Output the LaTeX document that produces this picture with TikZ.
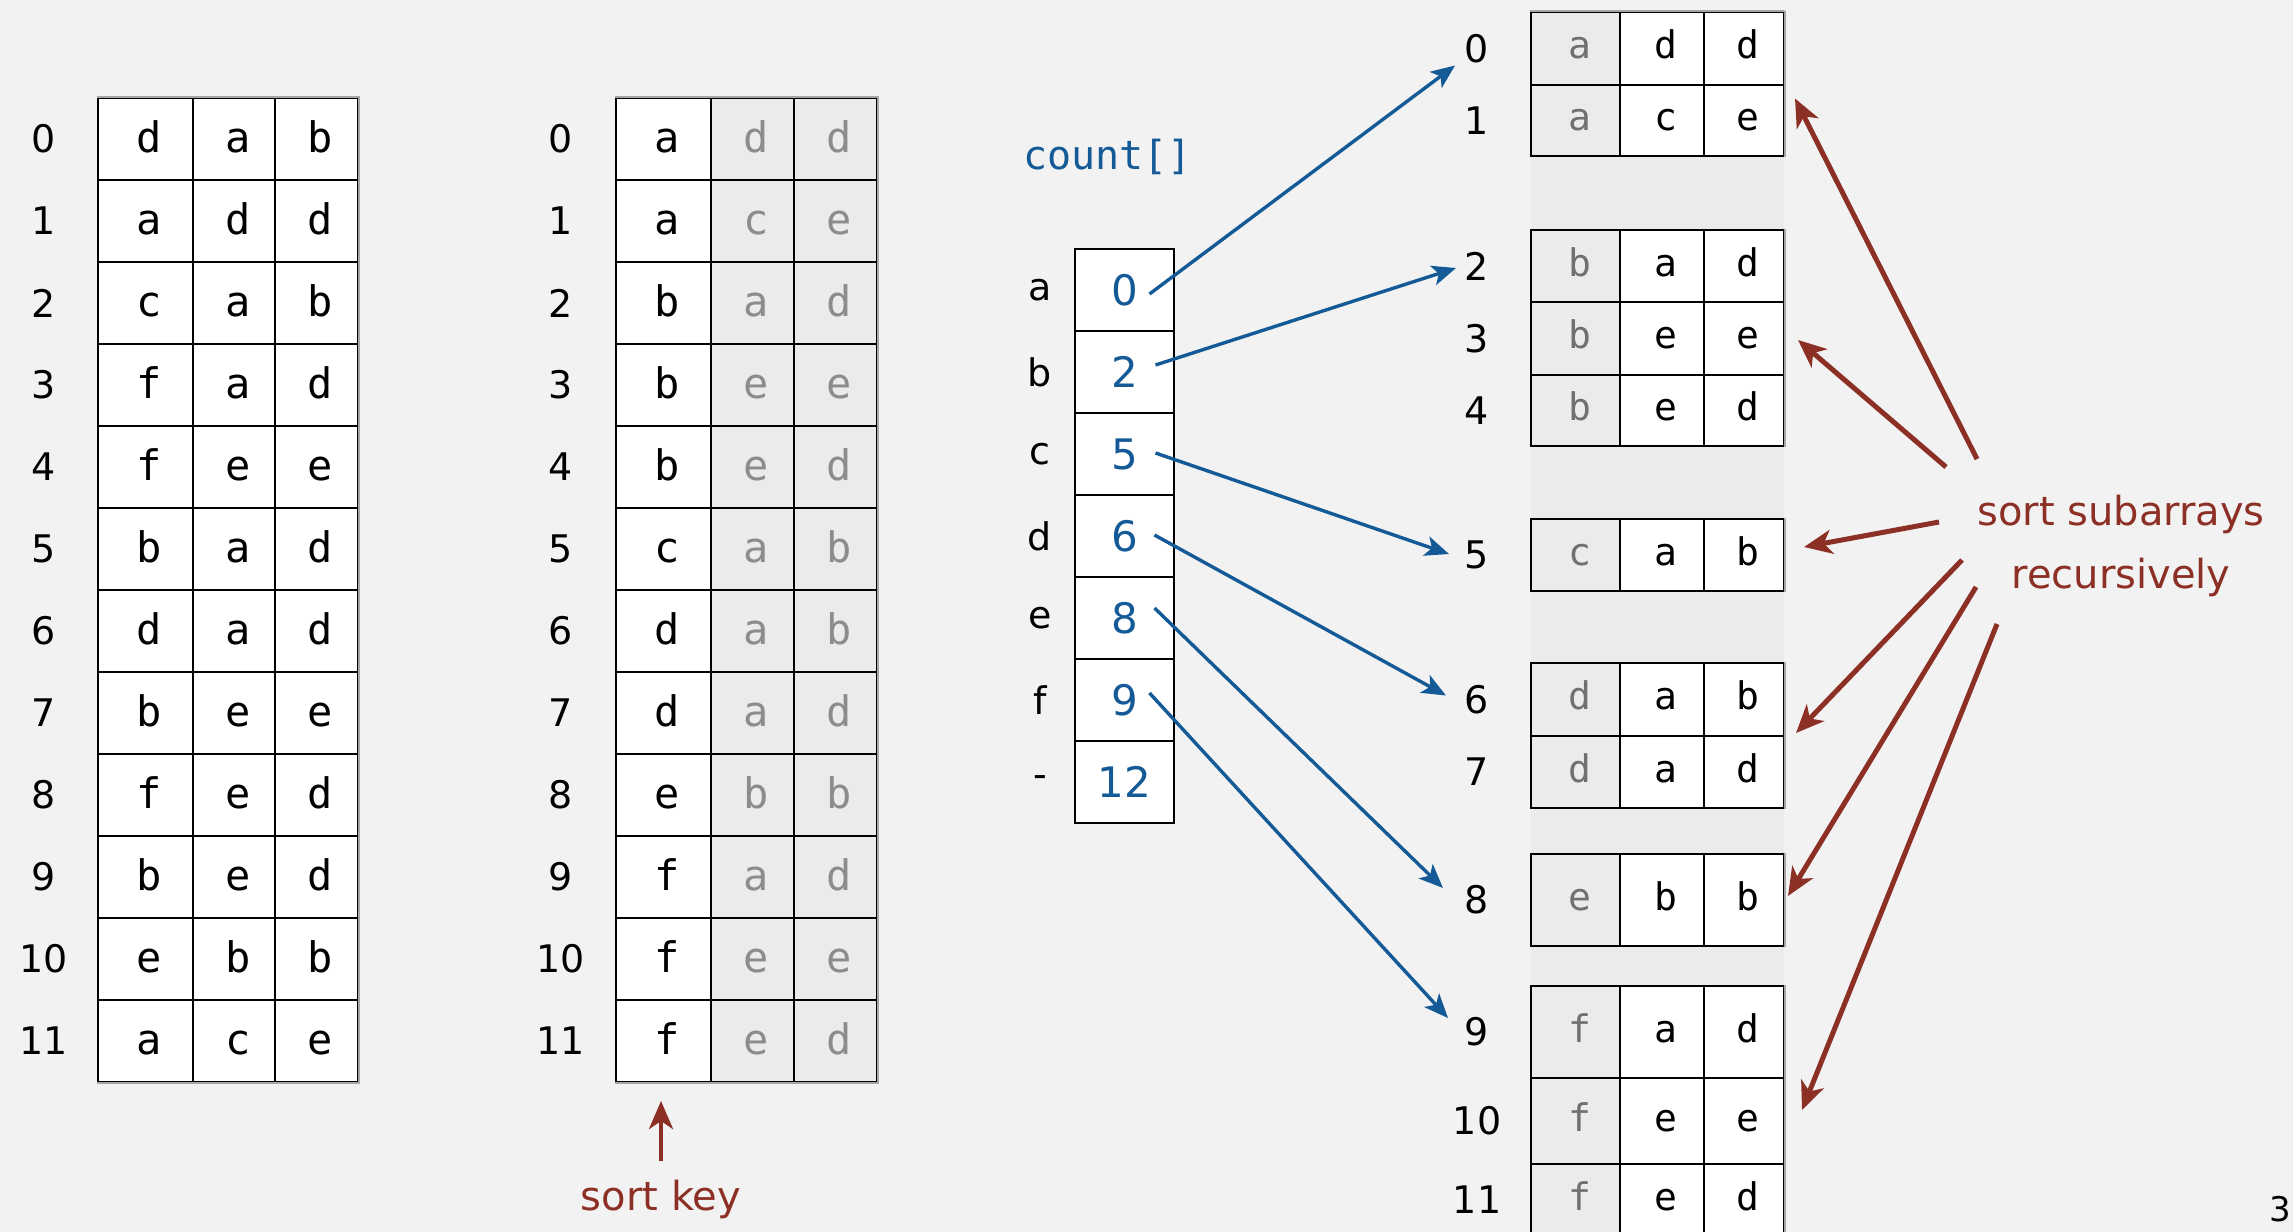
\documentclass[tikz,border=0pt]{standalone}
\usepackage{fontspec}
\setmainfont{DejaVu Sans}
\setmonofont{DejaVu Sans Mono}
\usetikzlibrary{arrows.meta,positioning,calc}

\definecolor{slidebg}{HTML}{F2F2F2}
\definecolor{keyfill}{HTML}{EBEBEB}
\definecolor{keytext}{HTML}{8C8C8C}
\definecolor{donetext}{HTML}{707070}
\definecolor{edgegray}{HTML}{A6A6A6}
\definecolor{cntblue}{HTML}{145A96}
\definecolor{notered}{HTML}{8C2F25}

\tikzset{
  cell/.style={draw=black, line width=1pt, fill=white, inner sep=0pt,
    minimum height=41pt, text height=16pt, text depth=3pt,
    execute at begin node=\hspace*{4pt},
    font=\fontsize{21}{21}\selectfont\ttfamily},
  keycell/.style={cell, fill=keyfill, text=keytext},
  rcell/.style={cell, text height=14.5pt, text depth=4.5pt,
    font=\fontsize{19}{19}\selectfont\ttfamily},
  rkeycell/.style={rcell, fill=keyfill, text=donetext},
  idx/.style={inner sep=0pt, font=\fontsize{19}{19}\selectfont},
  edgeline/.style={draw=edgegray, line width=1pt},
  cntcell/.style={draw=black, line width=1pt, fill=white, inner sep=0pt,
    minimum width=49.5pt, minimum height=41pt, text=cntblue,
    font=\fontsize{21}{21}\selectfont},
  cntarrow/.style={cntblue, line width=1.7pt,
    -{Stealth[length=12pt,width=10pt,inset=3pt]}},
  recarrow/.style={notered, line width=2.5pt,
    -{Stealth[length=14pt,width=12pt,inset=4pt]}},
  note/.style={text=notered, inner sep=0pt, font=\fontsize{20}{31.5}\selectfont}
}

\begin{document}
\begin{tikzpicture}[x=0.5pt, y=-0.5pt]
  \useasboundingbox (0,0) rectangle (2293,1232);
  \clip (0,0) rectangle (2293,1232);
  \fill[slidebg] (0,0) rectangle (2293,1232);

  % input array
  \foreach \ca/\cb/\cc [count=\row from 0] in {d/a/b,a/d/d,c/a/b,f/a/d,f/e/e,b/a/d,d/a/d,b/e/e,f/e/d,b/e/d,e/b/b,a/c/e} {
    \node[idx] (l1-\row) at (44,139+82*\row) {\row};
    \node[cell, minimum width=47.5pt] (t1-\row-1) at (145.5,139+82*\row) {\ca};
    \node[cell, minimum width=41pt] (t1-\row-2) at (234,139+82*\row) {\cb};
    \node[cell, minimum width=41.5pt] (t1-\row-3) at (316.5,139+82*\row) {\cc};
  }
  \draw[edgeline] (t1-0-1.north west) -- (t1-0-3.north east)
    -- (t1-11-3.south east) -- (t1-11-1.south west);

  % after first pass on the sort key
  \foreach \ca/\cb/\cc [count=\row from 0] in {a/d/d,a/c/e,b/a/d,b/e/e,b/e/d,c/a/b,d/a/b,d/a/d,e/b/b,f/a/d,f/e/e,f/e/d} {
    \node[idx] (l2-\row) at (561,139+82*\row) {\row};
    \node[cell, minimum width=47.5pt] (t2-\row-1) at (663.5,139+82*\row) {\ca};
    \node[keycell, minimum width=41.5pt] (t2-\row-2) at (752.5,139+82*\row) {\cb};
    \node[keycell, minimum width=41.5pt] (t2-\row-3) at (835.5,139+82*\row) {\cc};
  }
  \draw[edgeline] (t2-0-1.north west) -- (t2-0-3.north east)
    -- (t2-11-3.south east) -- (t2-11-1.south west);

  % sort key
  \node[note] (sk) at (661,1199) {sort key};
  \draw[recarrow, line width=2.2pt] ($(sk.north)+(0,-18)$) -- ($(t2-11-1.south)+(-2.5,18)$);

  % count array
  \node[anchor=west, inner sep=0pt, text=cntblue,
    font=\fontsize{20}{20}\selectfont\ttfamily] (cntname) at (1023,157) {count[]};
  \foreach \ch/\val [count=\row from 0] in {a/0,b/2,c/5,d/6,e/8,f/9,-/12} {
    \node[idx] (cl-\row) at (1040,290+82*\row) {\ch};
    \node[cntcell] (cnt-\row) at (1124.5,290+82*\row) {\val};
  }

  % subarrays
  \fill[keyfill] (1531,12) rectangle (1784,1232);
  \foreach \row/\ca/\cb/\cc/\ya/\yb in {0/a/d/d/12/85, 1/a/c/e/85/156,
      2/b/a/d/230/302, 3/b/e/e/302/375, 4/b/e/d/375/446, 5/c/a/b/519/591,
      6/d/a/b/663/736, 7/d/a/d/736/808, 8/e/b/b/854/946,
      9/f/a/d/986/1078, 10/f/e/e/1078/1164, 11/f/e/d/1164/1236} {
    \node[idx] (ri-\row) at (1477,{(\ya+\yb)/2}) {\row};
    \node[rkeycell, minimum width=44.5pt, minimum height={(\yb-\ya)*0.5pt}]
      (r-\row-1) at (1575.5,{(\ya+\yb)/2}) {\ca};
    \node[rcell, minimum width=42pt, minimum height={(\yb-\ya)*0.5pt}]
      (r-\row-2) at (1662,{(\ya+\yb)/2}) {\cb};
    \node[rcell, minimum width=40pt, minimum height={(\yb-\ya)*0.5pt}]
      (r-\row-3) at (1744,{(\ya+\yb)/2}) {\cc};
  }
  \draw[edgeline] (r-0-1.north west) -- (r-0-3.north east);
  \foreach \a/\b in {0/1,2/4,5/5,6/7,8/8,9/11}
    \draw[edgeline] (r-\a-3.north east) -- (r-\b-3.south east);

  % counts point to the start of each subarray
  \foreach \src/\dst/\sx/\sy/\ex/\ey in {0/0/25/4/-22/17, 1/2/31/-7/-21/2,
      2/5/31/-1/-28/-1, 3/6/30/-1/-31/-4, 4/8/30/-10/-34/-12, 5/9/25/-7/-29/-14}
    \draw[cntarrow] ($(cnt-\src.center)+(\sx,\sy)$) -- ($(ri-\dst.center)+(\ex,\ey)$);

  % recursion note
  \node[note, align=center] (rec) at (2121,546) {sort subarrays\\recursively};
  \foreach \dst/\sx/\sy/\ex/\ey in {1/-144/-87/10/-22, 3/-175/-79/13/1.5,
      5/-182/-24/19/-8, 6/-159/14/11/33.5, 8/-145/41/3/-4, 10/-124/78/17/-11}
    \draw[recarrow] ($(rec.center)+(\sx,\sy)$) -- ($(r-\dst-3.east)+(\ex,\ey)$);

  \node[idx, font=\fontsize{17}{17}\selectfont] (pg) at (2280,1209) {3};
\end{tikzpicture}
\end{document}
